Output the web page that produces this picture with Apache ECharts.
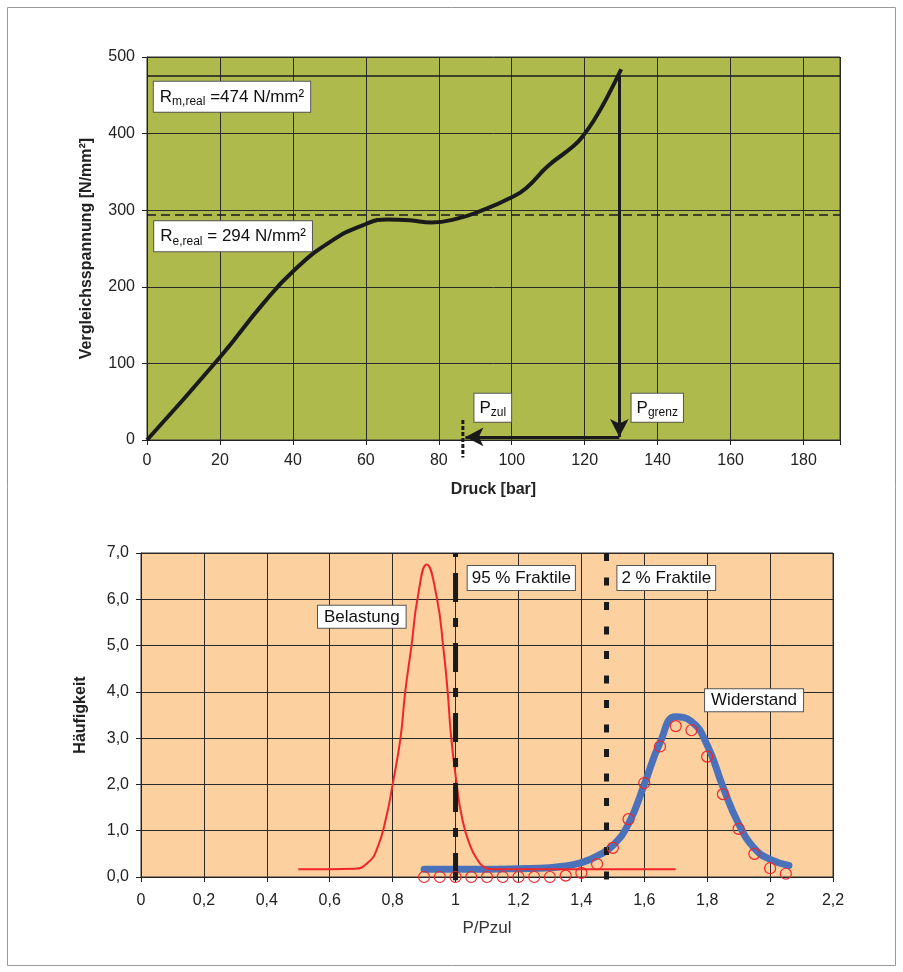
<!DOCTYPE html>
<html>
<head>
<meta charset="utf-8">
<script src="https://cdn.jsdelivr.net/npm/echarts@6/dist/echarts.min.js"></script>
<style>
html,body{margin:0;padding:0;background:#fff;}
#c{width:903px;height:972px;}
</style>
</head>
<body>
<div id="c"></div>
<script>
// ---------- Top chart data ----------
const druck = [0, 20, 32, 40, 50, 60, 66, 72, 78, 85, 92, 100, 104, 110, 117, 120, 123, 126, 130];
const spannung = [0, 108, 179, 220, 258, 282, 288, 287, 284, 289, 300, 317, 329, 358, 384, 400, 421, 446, 484];
const rmReal = 475;       // R_m,real line
const reReal = 294;       // R_e,real line
const pGrenz = 129.5;
const pZul = 87;
const arrowLevel = 4;

// ---------- Bottom chart data ----------
const belastungX = [0.5, 0.6, 0.68, 0.72, 0.75, 0.78, 0.80, 0.825, 0.84, 0.86, 0.88, 0.908, 0.94, 0.962, 0.975, 0.985, 1.0, 1.022, 1.048, 1.07, 1.09, 1.12, 1.3, 1.5, 1.7];
const belastungY = [0.17, 0.17, 0.18, 0.3, 0.6, 1.3, 2.0, 3.0, 4.0, 5.0, 6.05, 6.75, 6.05, 4.9, 4.0, 3.1, 2.2, 1.23, 0.65, 0.37, 0.22, 0.17, 0.17, 0.17, 0.17];
const widerstandX = [0.9, 1.0, 1.1, 1.2, 1.3, 1.35, 1.4, 1.45, 1.5, 1.55, 1.6, 1.65, 1.7, 1.75, 1.8, 1.85, 1.9, 1.95, 2.0, 2.06];
const widerstandY = [0.17, 0.17, 0.17, 0.18, 0.2, 0.24, 0.31, 0.45, 0.68, 1.15, 2.0, 2.9, 3.46, 3.36, 2.85, 1.95, 1.15, 0.62, 0.38, 0.25];
const messX = [0.9, 0.95, 1.0, 1.05, 1.1, 1.15, 1.2, 1.25, 1.3, 1.35, 1.4, 1.45, 1.5, 1.55, 1.6, 1.65, 1.7, 1.75, 1.8, 1.85, 1.9, 1.95, 2.0, 2.05];
const messY = [0, 0, 0, 0, 0, 0, 0, 0, 0, 0.03, 0.09, 0.28, 0.63, 1.25, 2.03, 2.82, 3.26, 3.17, 2.6, 1.79, 1.04, 0.5, 0.19, 0.07];
const fraktil95 = 1.0;
const fraktil2 = 1.48;

const FONT = "'Liberation Sans', Arial, sans-serif";
const zip = (a, b) => a.map((v, i) => [v, b[i]]);

const chart = echarts.init(document.getElementById('c'), null, {renderer: 'canvas'});

const boxLabel = (fmt, rich, pad) => ({
  show: true, position: 'inside', formatter: fmt,
  backgroundColor: '#ffffff', borderColor: '#555', borderWidth: 1, opacity: 1,
  padding: pad, color: '#111', fontFamily: FONT, fontSize: 17, lineHeight: 20,
  rich: rich
});
const subRich = {
  b: {fontSize: 17, lineHeight: 22, fontFamily: FONT, color: '#111'},
  s: {fontSize: 12, lineHeight: 14, fontFamily: FONT, color: '#111', verticalAlign: 'bottom'}
};
const annot = (xi, yi, x, y, fmt, rich, pad) => ({
  type: 'scatter', xAxisIndex: xi, yAxisIndex: yi, symbolSize: 0.1,
  itemStyle: {color: 'rgba(0,0,0,0)', opacity: 1}, silent: true, z: 10,
  data: [[x, y]], label: boxLabel(fmt, rich, pad)
});

const axCommon = {
  axisLine: {show: true, lineStyle: {color: '#222', width: 1}},
  axisTick: {show: true, length: 5, lineStyle: {color: '#222'}},
  splitLine: {show: true, lineStyle: {color: '#2a2a2a', width: 1}},
};

const option = {
  animation: false,
  textStyle: {fontFamily: FONT},
  graphic: [{
    type: 'rect', shape: {x: 7.5, y: 7.5, width: 888, height: 958},
    style: {fill: 'none', stroke: '#999', lineWidth: 1}, silent: true, z: -10
  }],
  grid: [
    {left: 147, top: 57, width: 693, height: 383, show: true, backgroundColor: '#aebb4c', borderColor: '#333', borderWidth: 1},
    {left: 141, top: 553, width: 692, height: 324, show: true, backgroundColor: '#fcd09f', borderColor: '#333', borderWidth: 1}
  ],
  xAxis: [
    Object.assign({}, axCommon, {
      gridIndex: 0, type: 'value', min: 0, max: 190, interval: 20,
      axisLabel: {fontSize: 16, color: '#222', margin: 13, formatter: v => v > 185 ? '' : String(v)},
      name: 'Druck [bar]', nameLocation: 'middle', nameGap: 42,
      nameTextStyle: {fontWeight: 'bold', fontSize: 16, color: '#222'}
    }),
    Object.assign({}, axCommon, {
      gridIndex: 1, type: 'value', min: 0, max: 2.2, interval: 0.2,
      axisLabel: {fontSize: 16, color: '#222', margin: 16, formatter: v => String(+v.toFixed(1)).replace('.', ',')},
      name: 'P/Pzul', nameLocation: 'middle', nameGap: 43,
      nameTextStyle: {fontSize: 17, color: '#333'}
    })
  ],
  yAxis: [
    Object.assign({}, axCommon, {
      gridIndex: 0, type: 'value', min: 0, max: 500, interval: 100,
      axisLabel: {fontSize: 16, color: '#222', margin: 12},
      name: 'Vergleichsspannung [N/mm²]', nameLocation: 'middle', nameGap: 52,
      nameTextStyle: {fontWeight: 'bold', fontSize: 16, color: '#222'}
    }),
    Object.assign({}, axCommon, {
      gridIndex: 1, type: 'value', min: 0, max: 7, interval: 1,
      axisLabel: {fontSize: 16, color: '#222', margin: 12, formatter: v => v.toFixed(1).replace('.', ',')},
      name: 'Häufigkeit', nameLocation: 'middle', nameGap: 52,
      nameTextStyle: {fontWeight: 'bold', fontSize: 16, color: '#222'}
    })
  ],
  series: [
    // ---- top chart ----
    {
      type: 'line', xAxisIndex: 0, yAxisIndex: 0, data: zip(druck, spannung),
      smooth: 0.5, symbol: 'none', lineStyle: {color: '#1a1a1a', width: 4}, z: 5,
      markLine: {
        silent: true, symbol: 'none', label: {show: false},
        data: [
          {yAxis: rmReal, lineStyle: {color: '#1a1a1a', width: 1.6, type: 'solid'}},
          {yAxis: reReal, lineStyle: {color: '#1a1a1a', width: 1.6, type: [9, 5]}}
        ]
      }
    },
    {
      type: 'line', xAxisIndex: 0, yAxisIndex: 0, symbol: 'none', z: 6,
      data: [[pGrenz, rmReal], [pGrenz, arrowLevel]], lineStyle: {opacity: 0},
      markLine: {
        silent: true, symbol: ['none', 'arrow'], symbolSize: [14, 18], label: {show: false},
        lineStyle: {color: '#1a1a1a', width: 3, type: 'solid'},
        data: [
          [{coord: [pGrenz, rmReal]}, {coord: [pGrenz, arrowLevel]}],
          [{coord: [pGrenz, arrowLevel]}, {coord: [pZul + 0.3, arrowLevel]}]
        ]
      }
    },
    {
      type: 'line', xAxisIndex: 0, yAxisIndex: 0, symbol: 'none', clip: false, z: 7,
      data: [[pZul - 0.4, 26], [pZul - 0.4, -23]],
      lineStyle: {color: '#1a1a1a', width: 3, type: [4, 2]}
    },
    annot(0, 0, 23.3, 448, '{b|R}{s|m,real}{b| =474 N/mm²}', subRich, [4, 6]),
    annot(0, 0, 23.6, 266, '{b|R}{s|e,real}{b| = 294 N/mm²}', subRich, [4, 6]),
    annot(0, 0, 94.8, 42, '{b|P}{s|zul}', subRich, [3, 5]),
    annot(0, 0, 139.9, 42, '{b|P}{s|grenz}', subRich, [3, 5]),

    // ---- bottom chart ----
    {
      type: 'line', xAxisIndex: 1, yAxisIndex: 1, data: zip(belastungX, belastungY),
      smooth: 0.5, symbol: 'none', lineStyle: {color: '#f0262b', width: 2}, z: 4
    },
    {
      type: 'line', xAxisIndex: 1, yAxisIndex: 1, data: zip(widerstandX, widerstandY),
      smooth: 0.5, symbol: 'none', lineStyle: {color: '#4a71b9', width: 7, cap: 'round'}, z: 3
    },
    {
      type: 'scatter', xAxisIndex: 1, yAxisIndex: 1, data: zip(messX, messY),
      symbol: 'circle', symbolSize: 11, clip: false,
      itemStyle: {color: 'rgba(0,0,0,0)', borderColor: '#f0262b', borderWidth: 1.2, opacity: 1}, z: 6
    },
    {
      type: 'line', xAxisIndex: 1, yAxisIndex: 1, symbol: 'none', clip: false, z: 5,
      data: [[fraktil95, 7], [fraktil95, -0.07]],
      lineStyle: {color: '#1a1a1a', width: 5, type: [29, 16, 9, 16], dashOffset: 50}
    },
    {
      type: 'line', xAxisIndex: 1, yAxisIndex: 1, symbol: 'none', clip: false, z: 5,
      data: [[fraktil2, 7], [fraktil2, -0.07]],
      lineStyle: {color: '#1a1a1a', width: 5, type: [8, 16.5]}
    },
    annot(1, 1, 1.209, 6.46, '95 % Fraktile', null, [2, 4]),
    annot(1, 1, 1.670, 6.46, '2 % Fraktile', null, [2, 4]),
    annot(1, 1, 0.702, 5.62, 'Belastung', null, [1, 6]),
    annot(1, 1, 1.949, 3.82, 'Widerstand', null, [1, 6])
  ]
};
chart.setOption(option);
</script>
</body>
</html>
